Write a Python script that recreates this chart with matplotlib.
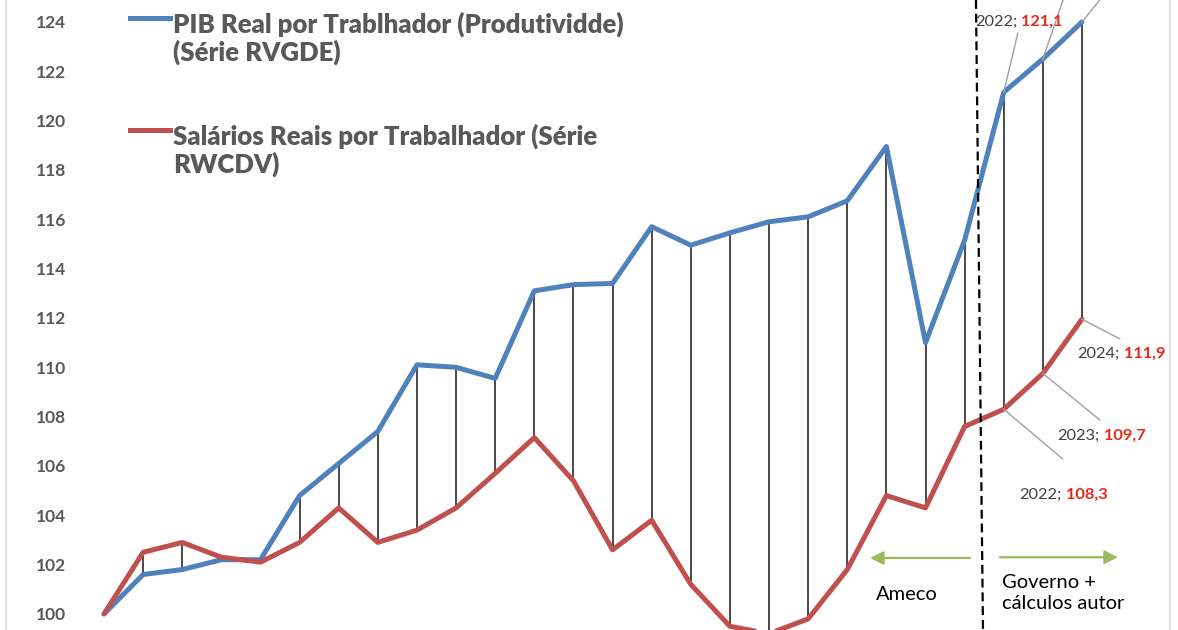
import matplotlib
matplotlib.use('Agg')
import matplotlib.pyplot as plt
import numpy as np

plt.rcParams['font.family'] = ['Lato', 'DejaVu Sans']

years = np.arange(1999, 2025)

# PIB real por trabalhador (RVGDE), indice 1999=100
produtividade = [100.0, 101.6, 101.8, 102.2, 102.2, 104.8, 106.1, 107.4, 110.1, 110.0,
                 109.55, 113.1, 113.35, 113.4, 115.7, 114.95, 115.45, 115.9, 116.1, 116.75,
                 118.95, 111.0, 115.15, 121.15, 122.5, 124.0]
# Salarios reais por trabalhador (RWCDV)
salarios = [100.0, 102.5, 102.9, 102.3, 102.1, 102.9, 104.3, 102.9, 103.4, 104.3,
            105.7, 107.15, 105.4, 102.6, 103.8, 101.2, 99.5, 99.2, 99.8, 101.8,
            104.8, 104.3, 107.6, 108.3, 109.75, 111.95]

yticks = [100, 102, 104, 106, 108, 110, 112, 114, 116, 118, 120, 122, 124]

blue = '#4F81BD'
red = '#C0504D'
grey_txt = '#595959'

fig = plt.figure(figsize=(11.78, 6.30), dpi=100)
ax = fig.add_axes([6/1178, 0, 1164/1178, 1])
ax.set_xlim(1996.495, 2026.25)
ax.set_ylim(99.35, 124.89)

# linhas verticais entre as duas series
lo = np.minimum(produtividade, salarios)
hi = np.maximum(produtividade, salarios)
ax.vlines(years[1:], lo[1:], hi[1:], color='#3A3A3A', lw=1.3, zorder=2)

ax.plot(years, produtividade, color=blue, lw=3.6, zorder=3, solid_capstyle='round')
ax.plot(years, salarios, color=red, lw=3.6, zorder=3, solid_capstyle='round')

# separacao Ameco / Governo (linha tracejada ligeiramente inclinada)
ax.plot([2021.29, 2021.47], [1, 0], transform=ax.get_xaxis_transform(),
        color='black', lw=1.6, ls=(0, (4, 2.2)), zorder=4)

green = '#9BBB59'
ax.annotate('', xy=(2018.58, 102.27), xytext=(2021.14, 102.27),
            arrowprops=dict(arrowstyle='-|>', color=green, lw=1.6, mutation_scale=20,
                            shrinkA=0, shrinkB=0))
ax.annotate('', xy=(2024.92, 102.3), xytext=(2021.90, 102.3),
            arrowprops=dict(arrowstyle='-|>', color=green, lw=1.6, mutation_scale=20,
                            shrinkA=0, shrinkB=0))
ax.text(2019.53, 100.77, 'Ameco', ha='center', va='center', fontsize=14.5, color='black')
ax.text(2021.95, 100.85, 'Governo +\ncálculos autor', ha='left', va='center',
        fontsize=14.5, color='black', linespacing=1.32)

# rotulos de dados com linhas de chamada
lead = dict(arrowstyle='-', color='#A6A6A6', lw=1.1, shrinkA=0, shrinkB=0, patchA=None)
i22, i23, i24 = 23, 24, 25
chamadas = [
    ((years[i22], produtividade[i22]), (2022.36, 123.55)),
    ((years[i23], produtividade[i23]), (2023.69, 125.70)),
    ((years[i24], produtividade[i24]), (2024.87, 125.70)),
    ((years[i22], salarios[i22]), (2023.51, 106.28)),
    ((years[i23], salarios[i23]), (2024.46, 107.86)),
    ((years[i24], salarios[i24]), (2024.97, 111.15)),
]
for pt, end in chamadas:
    ax.annotate('', xy=pt, xytext=end, arrowprops=lead, annotation_clip=False)

rotulos = [
    (2021.27, 124.0, '2022', '121,1'),
    (2023.88, 110.54, '2024', '111,9'),
    (2023.37, 107.22, '2023', '109,7'),
    (2022.40, 104.82, '2022', '108,3'),
]
for x, y, ano, val in rotulos:
    t = ax.text(x, y, ano + ';', ha='left', va='center', fontsize=11.8, color='#404040')
    ax.annotate(' ' + val, xy=(1, 0.5), xycoords=t, ha='left', va='center',
                fontsize=11.8, color='#E8291C', fontweight='bold')

# legenda
leg = [
    (blue, 'PIB Real por Trablhador (Produtividde)\n(Série RVGDE)', 18),
    (red, 'Salários Reais por Trabalhador (Série\nRWCDV)', 130),
]
for cor, txt, ypx in leg:
    yf = 1 - ypx / 630
    fig.add_artist(plt.Line2D([130/1178, 170/1178], [yf, yf], color=cor, lw=3.6,
                              transform=fig.transFigure))
    fig.text(173/1178, yf + 7/630, txt, ha='left', va='top', fontsize=18.5,
             fontweight='heavy', color=grey_txt, linespacing=1.12)

ax.set_xticks([])
ax.set_yticks(yticks)
ax.set_yticklabels([str(v) for v in yticks], fontweight='bold', fontsize=12.5, color=grey_txt)
ax.tick_params(axis='y', length=0, pad=-43.2)
for s in ['top', 'bottom']:
    ax.spines[s].set_visible(False)
for s in ['left', 'right']:
    ax.spines[s].set_color('#D9D9D9')
    ax.spines[s].set_linewidth(1.2)

fig.savefig('out.png', dpi=100)
